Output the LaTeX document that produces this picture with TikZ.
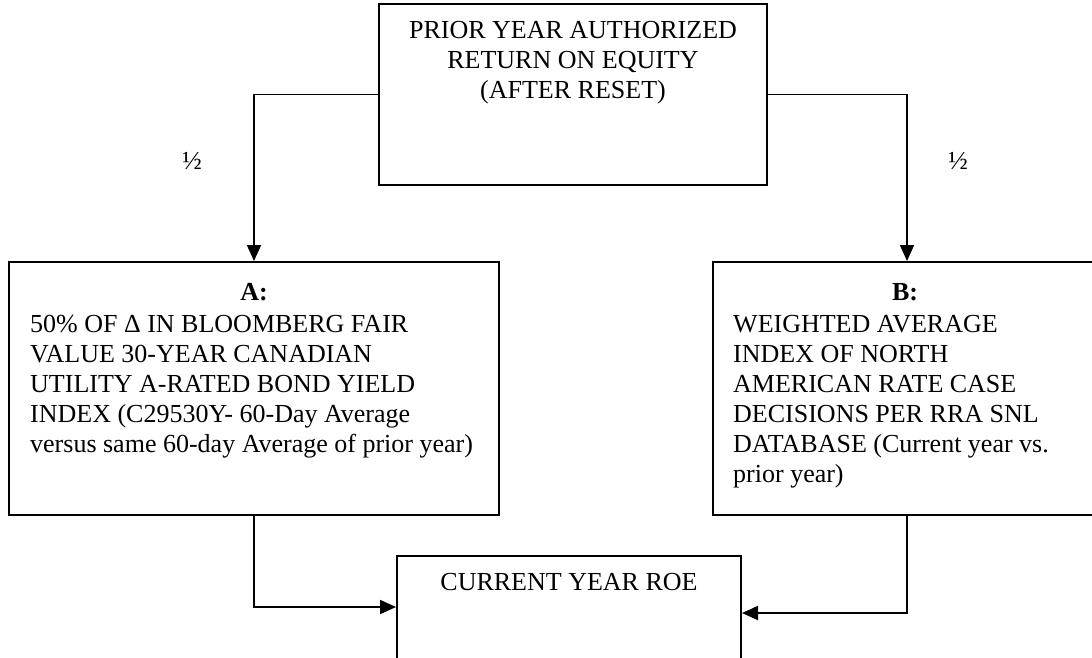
\documentclass[tikz,border=0pt]{standalone}
\usepackage{fontspec}
\setmainfont{Liberation Serif}
\usetikzlibrary{arrows.meta}

\begin{document}
\begin{tikzpicture}[x=1pt,y=-1pt,
    box/.style={rectangle,draw,line width=2pt,inner sep=0pt},
    txt/.style={inner sep=0pt,font=\fontsize{26}{30}\selectfont},
    head/.style={inner sep=0pt,font=\fontsize{26}{30}\selectfont\bfseries},
    link/.style={line width=1.8pt,-{Triangle[length=16pt,width=14pt]}}
]
\useasboundingbox (0,0) rectangle (1092,657);

% boxes
\node[box,minimum width=388pt,minimum height=181pt] (P) at (573,94.5)  {};
\node[box,minimum width=490pt,minimum height=253pt] (A) at (254,388.5) {};
\node[box,minimum width=388pt,minimum height=253pt] (B) at (907,388.5) {};
\node[box,minimum width=344pt,minimum height=130pt] (C) at (569,621)   {};

% texts
\node[txt,align=center,anchor=north] (Ptxt) at (573,21)
    {PRIOR YEAR AUTHORIZED\\RETURN ON EQUITY\\(AFTER RESET)};
\node[head,anchor=base] (Ahead) at (254,300) {A:};
\node[txt,align=left,anchor=north west] (Atxt) at (30,315)
    {50\% OF Δ IN BLOOMBERG FAIR\\VALUE 30-YEAR CANADIAN\\UTILITY A-RATED BOND YIELD\\INDEX (C29530Y- 60-Day Average\\versus same 60-day Average of prior year)};
\node[head,anchor=base] (Bhead) at (905,300) {B:};
\node[txt,align=left,anchor=north west] (Btxt) at (733,315)
    {WEIGHTED AVERAGE\\INDEX OF NORTH\\AMERICAN RATE CASE\\DECISIONS PER RRA SNL\\DATABASE (Current year vs.\\prior year)};
\node[txt,anchor=base] (Ctxt) at (569,590) {CURRENT YEAR ROE};
\node[txt] (halfL) at (192,161) {½};
\node[txt] (halfR) at (958,161) {½};

% connectors
\draw[link] (P.west) -| (A.north);
\draw[link] (P.east) -| (B.north);
\draw[link] (A.south) |- ([yshift=14pt]C.west);
\draw[link] (B.south) |- ([yshift=8pt]C.east);
\end{tikzpicture}
\end{document}
